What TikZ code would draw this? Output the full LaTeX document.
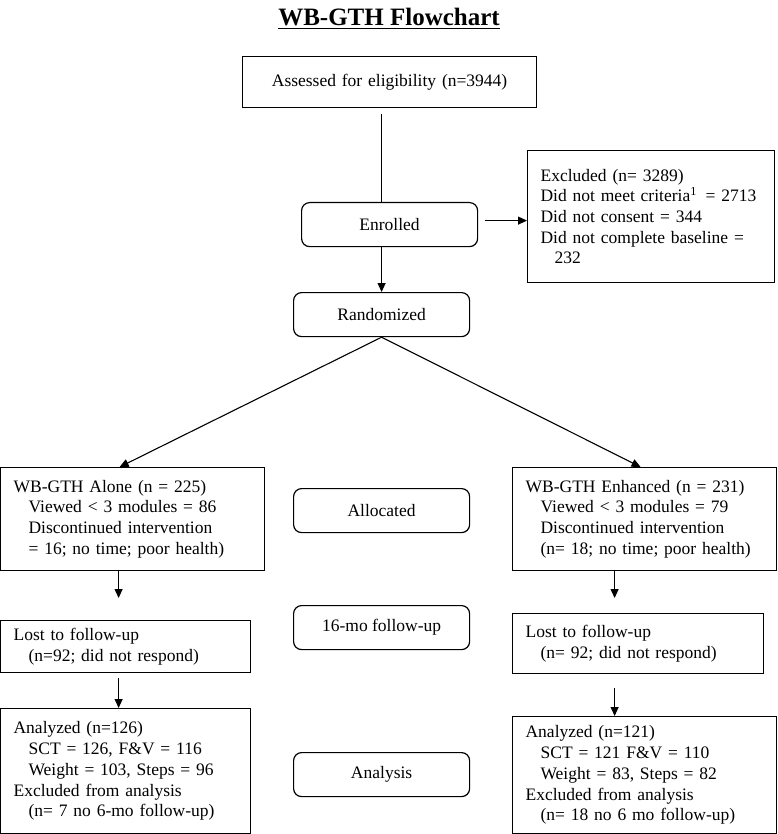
\documentclass[tikz,border=0pt]{standalone}
\usepackage{fontspec}
\setmainfont{Liberation Serif}
\usetikzlibrary{calc,arrows.meta}

\tikzset{
  txt/.style={font=\fontsize{17.5}{20.7}\selectfont},
  sqbox/.style 2 args={txt, draw, line width=1.2pt, anchor=north west, align=left,
    inner xsep=13pt, inner ysep=0pt, text width=#1, minimum height=#2},
  rbox/.style={txt, draw, line width=1.2pt, rounded corners=8pt, anchor=north west,
    minimum width=176pt, minimum height=44pt, inner sep=0pt},
  ln/.style={line width=1.1pt},
  arr/.style={line width=1.1pt, -{Triangle[length=9pt,width=8pt]}}
}

\begin{document}
\begin{tikzpicture}[x=1pt,y=-1pt]
\useasboundingbox (0,0) rectangle (777,834);
%% title
\node[anchor=base, font=\fontsize{25}{30}\selectfont\bfseries] (ttl) at (389,26) {\underline{WB-GTH Flowchart}};
%% top part
\node[sqbox={268pt}{51pt}, align=center] (assess) at (242,56) {Assessed for eligibility (n=3944)};
\node[rbox] (enrol) at (301,202) {Enrolled};
\node[sqbox={221pt}{132pt}] (excl) at (527,150) {Excluded (n= 3289)\\
  Did not meet criteria\textsuperscript{1}\, = 2713\\
  Did not consent = 344\\
  Did not complete baseline =\\
  \hspace*{14pt}232};
\node[rbox] (rand) at (293,292) {Randomized};
%% allocation
\node[sqbox={238pt}{103pt}] (alone) at (0,467) {WB-GTH Alone (n = 225)\\
  \hspace*{15pt}Viewed < 3 modules = 86\\
  \hspace*{15pt}Discontinued intervention\\
  \hspace*{15pt}= 16; no time; poor health)};
\node[rbox] (alloc) at (293,488) {Allocated};
\node[sqbox={238pt}{103pt}] (enh) at (512,467) {WB-GTH Enhanced (n = 231)\\
  \hspace*{15pt}Viewed < 3 modules = 79\\
  \hspace*{15pt}Discontinued intervention\\
  \hspace*{15pt}(n= 18; no time; poor health)};
%% follow-up
\node[sqbox={224pt}{52pt}] (lostA) at (0,620) {Lost to follow-up\\
  \hspace*{15pt}(n=92; did not respond)};
\node[rbox] (fup) at (293,605) {16-mo follow-up};
\node[sqbox={225pt}{60pt}] (lostE) at (512,613) {Lost to follow-up\\
  \hspace*{15pt}(n= 92; did not respond)};
%% analysis
\node[sqbox={224pt}{125pt}] (anA) at (0,708) {Analyzed (n=126)\\
  \hspace*{15pt}SCT = 126, F\&V = 116\\
  \hspace*{15pt}Weight = 103, Steps = 96\\
  Excluded from analysis\\
  \hspace*{15pt}(n= 7 no 6-mo follow-up)};
\node[rbox] (ana) at (293,752) {Analysis};
\node[sqbox={238pt}{117pt}] (anE) at (512,716) {Analyzed (n=121)\\
  \hspace*{15pt}SCT = 121 F\&V = 110\\
  \hspace*{15pt}Weight = 83, Steps = 82\\
  Excluded from analysis\\
  \hspace*{15pt}(n= 18 no 6 mo follow-up)};
%%% connectors
\draw[ln] ([yshift=-6pt]assess.south -| rand.north) -- (rand.north |- enrol.north);
\draw[arr, shorten <=7pt] ([yshift=4pt]enrol.east) -- ([yshift=4pt]enrol.east -| excl.west);
\draw[arr] (rand.north |- enrol.south) -- (rand.north);
\draw[arr] (rand.south) -- ([xshift=-13pt]alone.north);
\draw[arr] (rand.south) -- ([xshift=-4pt]enh.north);
\draw[arr, shorten >=22pt] ([xshift=-14pt]alone.south) -- ([xshift=-14pt]alone.south |- lostA.north);
\draw[arr, shorten >=15pt] ([xshift=-30pt]enh.south) -- ([xshift=-30pt]enh.south |- lostE.north);
\draw[arr, shorten <=5pt] ([xshift=-7pt]lostA.south) -- ([xshift=-7pt]lostA.south |- anA.north);
\draw[arr, shorten <=14pt] ([xshift=-23.5pt]lostE.south) -- ([xshift=-23.5pt]lostE.south |- anE.north);
\end{tikzpicture}
\end{document}
